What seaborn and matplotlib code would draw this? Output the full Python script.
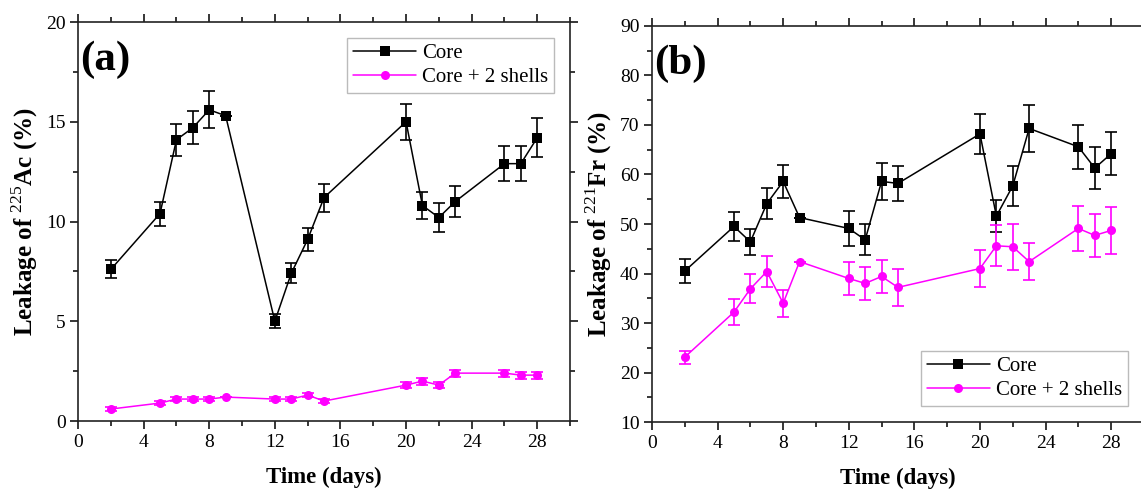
import numpy as np
import pandas as pd
import seaborn as sns
import matplotlib
matplotlib.use("Agg")
import matplotlib.pyplot as plt
from matplotlib.ticker import MultipleLocator

# ---------------- data ----------------
days = [2, 5, 6, 7, 8, 9, 12, 13, 14, 15, 20, 21, 22, 23, 26, 27, 28]

ac_core = [7.6, 10.4, 14.1, 14.7, 15.6, 15.3, 5.0, 7.4, 9.1, 11.2, 15.0, 10.8, 10.2, 11.0, 12.9, 12.9, 14.2]
ac_core_err = [0.45, 0.6, 0.8, 0.83, 0.93, 0.0, 0.35, 0.5, 0.58, 0.7, 0.9, 0.68, 0.73, 0.77, 0.88, 0.88, 0.98]
ac_shell = [0.6, 0.9, 1.1, 1.1, 1.1, 1.2, 1.1, 1.1, 1.3, 1.0, 1.8, 2.0, 1.8, 2.4, 2.4, 2.3, 2.3]
ac_shell_err = [0.1, 0.1, 0.12, 0.12, 0.12, 0.0, 0.12, 0.12, 0.12, 0.12, 0.17, 0.17, 0.17, 0.17, 0.17, 0.17, 0.17]

fr_core = [40.5, 49.5, 46.4, 54.1, 58.6, 51.3, 49.1, 46.8, 58.6, 58.2, 68.2, 51.6, 57.7, 69.3, 65.6, 61.3, 64.2]
fr_core_err = [2.4, 2.9, 2.6, 3.1, 3.4, 0.0, 3.5, 3.1, 3.8, 3.6, 4.0, 3.2, 4.1, 4.8, 4.5, 4.2, 4.3]
fr_shell = [23.1, 32.2, 36.9, 40.4, 34.0, 42.4, 39.0, 38.0, 39.4, 37.2, 41.0, 45.6, 45.4, 42.4, 49.1, 47.7, 48.7]
fr_shell_err = [1.3, 2.6, 2.9, 3.2, 2.7, 0.0, 3.4, 3.3, 3.3, 3.7, 3.8, 4.1, 4.6, 3.8, 4.6, 4.4, 4.7]

series_names = ["Core", "Core + 2 shells"]
x_ticks = [0, 4, 8, 12, 16, 20, 24, 28]

# ---------------- style ----------------
sns.set_theme(style="ticks")
plt.rcParams["font.family"] = ["Liberation Serif", "DejaVu Serif"]
plt.rcParams["mathtext.fontset"] = "custom"
plt.rcParams["mathtext.rm"] = "Liberation Serif"
plt.rcParams["mathtext.bf"] = "Liberation Serif:bold"
plt.rcParams["axes.linewidth"] = 1.2
for k in ["text.color", "axes.labelcolor", "xtick.color", "ytick.color", "axes.edgecolor"]:
    plt.rcParams[k] = "black"

colors = {"Core": "black", "Core + 2 shells": "#FF00FF"}
markers = {"Core": "s", "Core + 2 shells": "o"}

fig = plt.figure(figsize=(11.41, 4.98), dpi=100)
ax_a = fig.add_axes([0.0684, 0.1546, 0.4312, 0.8012])
ax_b = fig.add_axes([0.5714, 0.1526, 0.4312, 0.7952])


def draw(ax, core, core_err, shell, shell_err, ylim, ymaj, ymin, ylabel, tag, legloc):
    df = pd.DataFrame({
        "Time": days * 2,
        "Value": list(core) + list(shell),
        "Series": [series_names[0]] * len(days) + [series_names[1]] * len(days),
    })
    for name, vals, errs in [(series_names[0], core, core_err), (series_names[1], shell, shell_err)]:
        ax.errorbar(days, vals, yerr=errs, fmt="none", ecolor=colors[name],
                    elinewidth=1.2, capsize=4.5, capthick=1.2, zorder=2)
    sns.lineplot(data=df, x="Time", y="Value", hue="Series", style="Series",
                 palette=colors, markers=markers, dashes=False, markersize=6.5,
                 markeredgewidth=0, linewidth=1.1, ax=ax, zorder=3)
    ax.set_xlim(0, 30)
    ax.set_ylim(*ylim)
    ax.set_xticks(x_ticks)
    ax.xaxis.set_minor_locator(MultipleLocator(2))
    ax.yaxis.set_major_locator(MultipleLocator(ymaj))
    ax.yaxis.set_minor_locator(MultipleLocator(ymin))
    ax.tick_params(which="major", direction="out", length=6, width=1.1,
                   labelsize=14, top=True, right=True, pad=3)
    ax.tick_params(which="minor", direction="out", length=3.5, width=1.1,
                   top=True, right=True)
    for s in ax.spines.values():
        s.set_visible(True)
        s.set_color("#222222")
    ax.set_xlabel("Time (days)", fontsize=16.5, fontweight="bold", labelpad=12)
    ax.set_ylabel(ylabel, fontsize=18, fontweight="bold", labelpad=4)
    ax.text(0.004, 0.905, tag, transform=ax.transAxes, fontsize=31,
            fontweight="bold", ha="left", va="center")
    leg = ax.legend(title=None, loc=legloc, fontsize=15, frameon=True,
                    fancybox=False, edgecolor="#aaaaaa", borderpad=0.3,
                    handlelength=3.0, handletextpad=0.3, labelspacing=0.2,
                    borderaxespad=0.75)
    leg.get_frame().set_linewidth(1.0)


draw(ax_a, ac_core, ac_core_err, ac_shell, ac_shell_err, (0, 20), 5, 2.5,
     r"Leakage of $^{\mathrm{225}}$Ac (%)", "(a)", "upper right")
draw(ax_b, fr_core, fr_core_err, fr_shell, fr_shell_err, (10, 90), 10, 5,
     r"Leakage of $^{\mathrm{221}}$Fr (%)", "(b)", "lower right")

fig.savefig("out.png", dpi=100)
